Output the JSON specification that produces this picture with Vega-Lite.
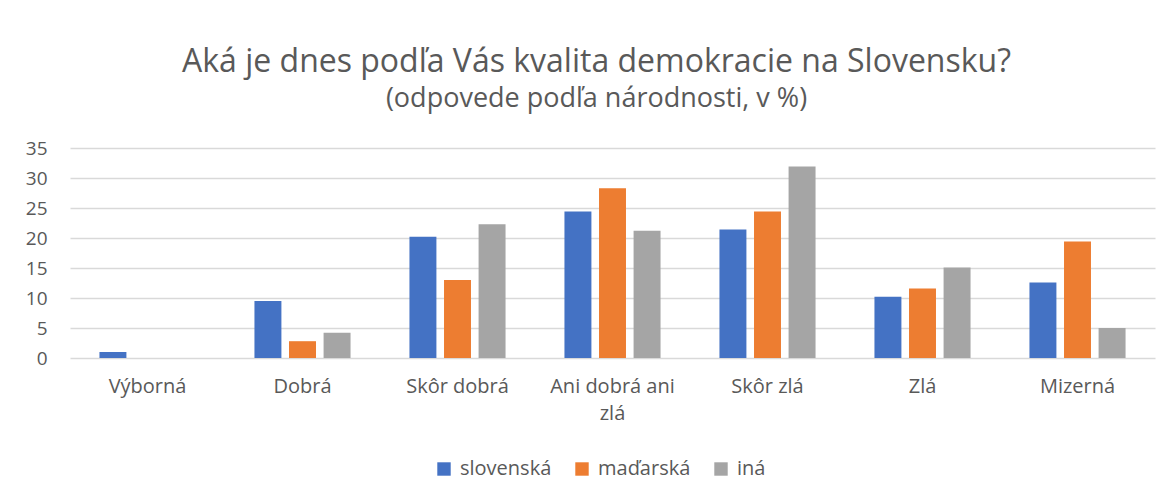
{
  "$schema": "https://vega.github.io/schema/vega-lite/v6.json",
  "width": 1085,
  "height": 210,
  "autosize": {"type": "none"},
  "padding": {"left": 70, "top": 148, "right": 18, "bottom": 145},
  "background": "white",
  "title": {
    "text": "Aká je dnes podľa Vás kvalita demokracie na Slovensku?",
    "subtitle": "(odpovede podľa národnosti, v %)",
    "font": "Open Sans",
    "fontSize": 32,
    "fontWeight": "normal",
    "color": "#595959",
    "subtitleFont": "Open Sans",
    "subtitleFontSize": 27,
    "subtitleColor": "#595959",
    "subtitlePadding": 7,
    "anchor": "middle",
    "dx": -16,
    "offset": 26
  },
  "data": {
    "values": [
      {"odpoved": "Výborná", "narodnost": "slovenská", "hodnota": 1.0},
      {"odpoved": "Výborná", "narodnost": "maďarská", "hodnota": 0},
      {"odpoved": "Výborná", "narodnost": "iná", "hodnota": 0},
      {"odpoved": "Dobrá", "narodnost": "slovenská", "hodnota": 9.5},
      {"odpoved": "Dobrá", "narodnost": "maďarská", "hodnota": 2.8},
      {"odpoved": "Dobrá", "narodnost": "iná", "hodnota": 4.2},
      {"odpoved": "Skôr dobrá", "narodnost": "slovenská", "hodnota": 20.2},
      {"odpoved": "Skôr dobrá", "narodnost": "maďarská", "hodnota": 13.0},
      {"odpoved": "Skôr dobrá", "narodnost": "iná", "hodnota": 22.3},
      {"odpoved": "Ani dobrá ani zlá", "narodnost": "slovenská", "hodnota": 24.4},
      {"odpoved": "Ani dobrá ani zlá", "narodnost": "maďarská", "hodnota": 28.3},
      {"odpoved": "Ani dobrá ani zlá", "narodnost": "iná", "hodnota": 21.2},
      {"odpoved": "Skôr zlá", "narodnost": "slovenská", "hodnota": 21.4},
      {"odpoved": "Skôr zlá", "narodnost": "maďarská", "hodnota": 24.4},
      {"odpoved": "Skôr zlá", "narodnost": "iná", "hodnota": 31.9},
      {"odpoved": "Zlá", "narodnost": "slovenská", "hodnota": 10.2},
      {"odpoved": "Zlá", "narodnost": "maďarská", "hodnota": 11.6},
      {"odpoved": "Zlá", "narodnost": "iná", "hodnota": 15.1},
      {"odpoved": "Mizerná", "narodnost": "slovenská", "hodnota": 12.6},
      {"odpoved": "Mizerná", "narodnost": "maďarská", "hodnota": 19.4},
      {"odpoved": "Mizerná", "narodnost": "iná", "hodnota": 5.0}
    ]
  },
  "mark": {"type": "bar"},
  "encoding": {
    "x": {
      "field": "odpoved",
      "type": "nominal",
      "sort": ["Výborná", "Dobrá", "Skôr dobrá", "Ani dobrá ani zlá", "Skôr zlá", "Zlá", "Mizerná"],
      "scale": {"paddingInner": 0.38, "paddingOuter": 0.19},
      "axis": {
        "title": null,
        "labelAngle": 0,
        "labelFont": "Open Sans",
        "labelFontSize": 20,
        "labelColor": "#595959",
        "labelPadding": 18,
        "labelLineHeight": 27,
        "labelBaseline": "top",
        "ticks": false,
        "domain": false,
        "labelExpr": "datum.label == 'Ani dobrá ani zlá' ? ['Ani dobrá ani', 'zlá'] : datum.label"
      }
    },
    "xOffset": {
      "field": "narodnost",
      "type": "nominal",
      "sort": ["slovenská", "maďarská", "iná"],
      "scale": {"paddingInner": 0.22, "paddingOuter": 0}
    },
    "y": {
      "field": "hodnota",
      "type": "quantitative",
      "scale": {"domain": [0, 35]},
      "axis": {
        "title": null,
        "values": [0, 5, 10, 15, 20, 25, 30, 35],
        "labelFont": "Open Sans",
        "labelFontSize": 19,
        "labelColor": "#595959",
        "labelPadding": 23,
        "ticks": false,
        "domain": false,
        "gridColor": "#d9d9d9",
        "gridWidth": 1.5
      }
    },
    "color": {
      "field": "narodnost",
      "type": "nominal",
      "sort": ["slovenská", "maďarská", "iná"],
      "scale": {"domain": ["slovenská", "maďarská", "iná"], "range": ["#4472C4", "#ED7D31", "#A5A5A5"]},
      "legend": {
        "title": null,
        "orient": "none",
        "legendX": 364,
        "legendY": 311,
        "direction": "horizontal",
        "symbolType": "square",
        "symbolSize": 180,
        "symbolStrokeWidth": 0,
        "labelFont": "Open Sans",
        "labelFontSize": 20,
        "labelColor": "#595959",
        "labelOffset": 6,
        "columnPadding": 20
      }
    }
  },
  "config": {
    "view": {"stroke": null}
  }
}
